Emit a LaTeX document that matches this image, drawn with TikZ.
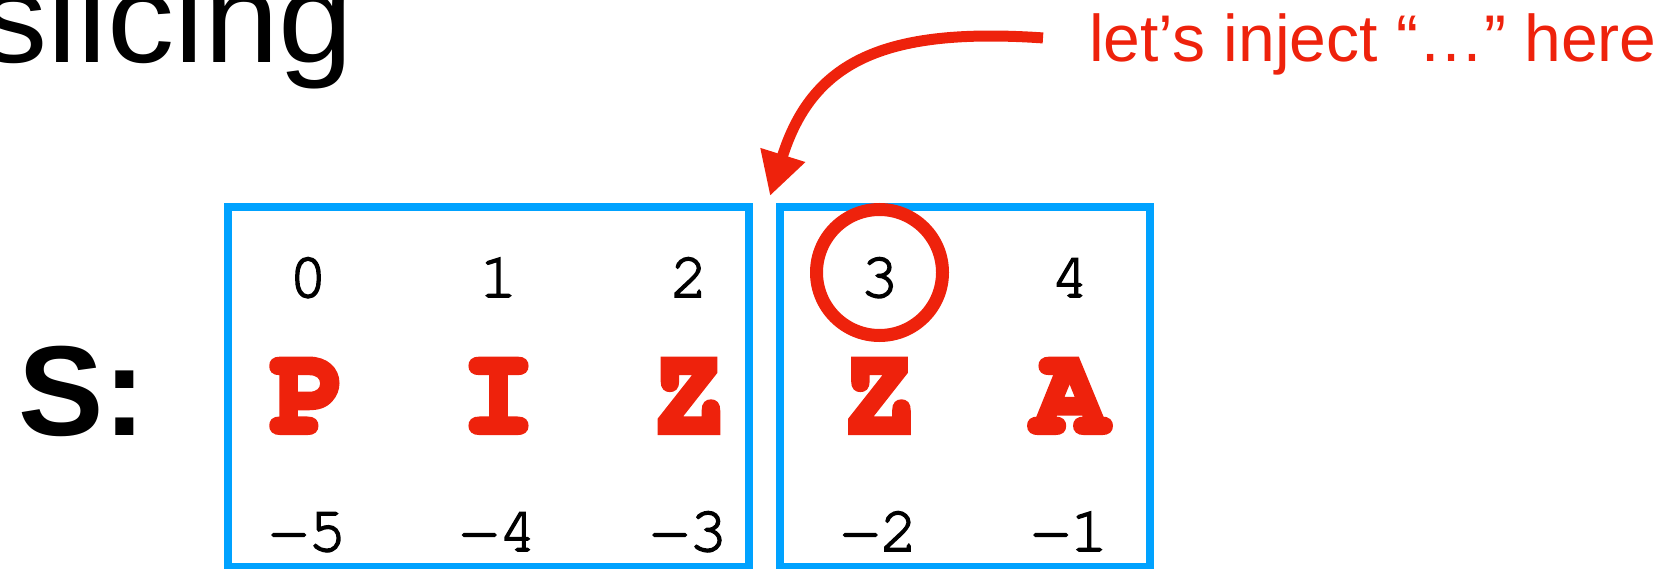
\documentclass[tikz,border=0pt]{standalone}
\usepackage{fontspec}
\setmainfont{Liberation Sans}
\newfontfamily\cursorfont{texgyrecursor-regular}[Extension=.otf, FakeBold=2.5]
\newfontfamily\cursorheavy{texgyrecursor-bold}[Extension=.otf, FakeBold=5]
\usepackage{tikz}
\definecolor{slidered}{RGB}{238, 34, 12}
\definecolor{slideblue}{RGB}{0, 162, 255}
\usetikzlibrary{arrows.meta, positioning, calc}

\begin{document}
\begin{tikzpicture}[
    x=1pt, y=-1pt,
    half/.style={draw=slideblue, line width=8pt, minimum height=360pt, inner sep=0pt},
    idx/.style={anchor=base, inner sep=0pt, font=\cursorfont\fontsize{64}{64}\selectfont},
    chr/.style={anchor=base, inner sep=0pt, text=slidered, font=\cursorheavy\fontsize{124}{124}\selectfont},
    ring/.style={draw=slidered, line width=13pt, circle, minimum size=126pt, inner sep=0pt}
]
    \useasboundingbox (0,0) rectangle (1663,569);

    \node[anchor=base east, inner sep=0pt, xscale=1.05, font=\fontsize{128}{128}\selectfont] (title) at (354,63) {slicing};
    \node[anchor=base west, inner sep=0pt, font=\bfseries\fontsize{128}{128}\selectfont] (svar) at (18,435) {S:};

    \node[half, minimum width=521pt] (front) at (488.5,387) {};
    \node[half, minimum width=370pt] (back) at (965,387) {};

    \foreach \i/\ch/\n in {0/P/5, 1/I/4, 2/Z/3, 3/Z/2, 4/A/1} {
        \node[idx] (pos\i) at (308+190.5*\i, 297) {\i};
        \node[chr] (chr\i) at (308+190.5*\i, 432) {\ch};
        \node[idx] (neg\n) at (308+190.5*\i, 551) {−\n};
    }

    \node[ring] (mark) at (879.5,272.5) {};

    \node[anchor=base west, inner sep=0pt, text=slidered, font=\fontsize{66}{66}\selectfont] (note) at (1089,62) {let’s inject “…” here};
    \coordinate (gap) at (770,196);
    \draw[-{Triangle[length=43pt, width=44pt]}, slidered, line width=11pt] ([xshift=-46pt, yshift=7pt]note.west) .. controls (883,27) and (812,62) .. (gap);
\end{tikzpicture}
\end{document}
